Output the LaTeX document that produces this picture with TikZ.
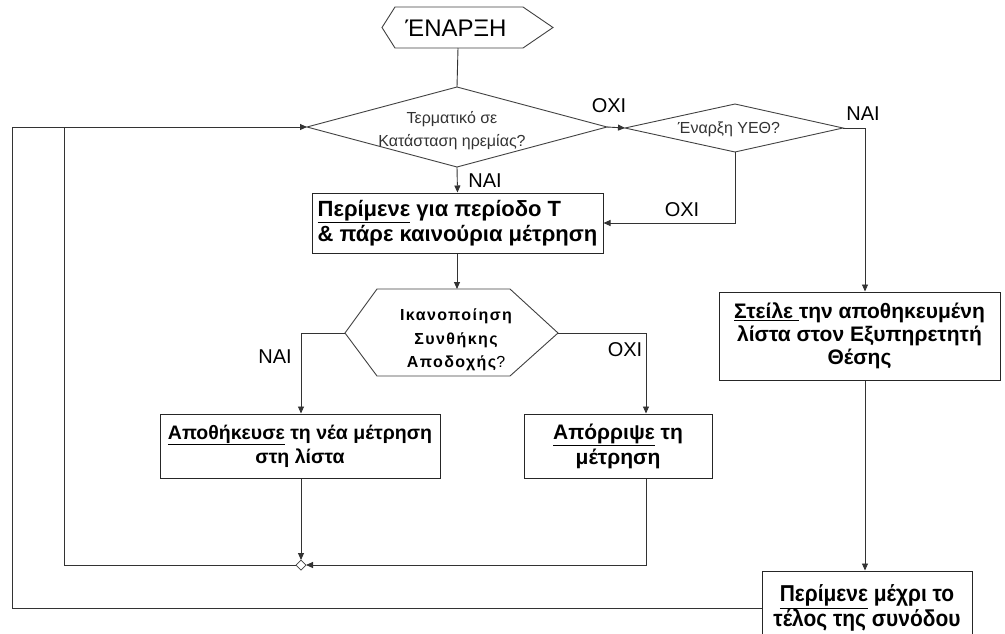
\documentclass[tikz,border=0pt]{standalone}
\usepackage{fontspec}
\setmainfont{Liberation Sans}
\usetikzlibrary{arrows.meta,calc}

\tikzset{
  conn/.style={draw=black!80, line width=0.9pt},
  arr/.style={conn, -{Triangle[length=7pt,width=6pt]}},
  outline/.style={draw=black!75, line width=0.9pt},
  stepbox/.style={draw=black!85, line width=1pt, rectangle, inner sep=0pt, align=center,
    font=\bfseries\fontsize{19}{24}\selectfont},
  lbl/.style={inner sep=0pt, font=\fontsize{20}{22}\selectfont},
  qtext/.style={inner sep=0pt, align=center, text=black!80, font=\fontsize{16}{23}\selectfont},
}

\begin{document}
\begin{tikzpicture}[x=1pt,y=-1pt]
\useasboundingbox (0,0) rectangle (1005,633);

% start terminal
\coordinate (sw) at (382,27.5);  \coordinate (snw) at (395,7);  \coordinate (sne) at (523,7);
\coordinate (se) at (553,27.5);  \coordinate (sse) at (523,48); \coordinate (ssw) at (395,48);
\coordinate (ss) at (458,48);
\draw[outline] (sw) -- (snw) -- (sne) -- (se) -- (sse) -- (ssw) -- cycle;
\node[inner sep=0pt, font=\fontsize{24}{26}\selectfont] (start) at (456,28) {ΈΝΑΡΞΗ};

% decision: terminal idle?
\coordinate (d1n) at (457,87);  \coordinate (d1e) at (607,127);
\coordinate (d1s) at (457,167); \coordinate (d1w) at (307,127);
\draw[outline] (d1n) -- (d1e) -- (d1s) -- (d1w) -- cycle;
\node[qtext] (d1) at (452,131) {Τερματικό σε\\Κατάσταση ηρεμίας?};

% decision: start of location service?
\coordinate (d2n) at (735,104);  \coordinate (d2e) at (843,128);
\coordinate (d2s) at (735,152);  \coordinate (d2w) at (625,128);
\draw[outline] (d2n) -- (d2e) -- (d2s) -- (d2w) -- cycle;
\node[qtext] (d2) at (729,129) {Έναρξη ΥΕΘ?};

% wait and measure
\node[stepbox, minimum width=291pt, minimum height=60pt, align=left,
  font=\bfseries\fontsize{22}{25}\selectfont] (measure) at (457.5,223)
  {\underline{Περίμενε} για περίοδο Τ\\\& πάρε καινούρια μέτρηση};

% acceptance check
\coordinate (cw) at (345,333);  \coordinate (cnw) at (377,289); \coordinate (cne) at (510,289);
\coordinate (ce) at (558,333);  \coordinate (cse) at (510,376); \coordinate (csw) at (377,376);
\coordinate (cn) at (457,289);
\draw[outline] (cw) -- (cnw) -- (cne) -- (ce) -- (cse) -- (csw) -- cycle;
\node[inner sep=0pt, align=center,
  font=\bfseries\fontsize{16}{23.5}\selectfont\addfontfeature{LetterSpace=9}] (cond) at (456,340)
  {Ικανοποίηση\\Συνθήκης\\Αποδοχής{\mdseries ?}};

% store / reject
\node[stepbox, minimum width=280pt, minimum height=64pt,
  font=\bfseries\fontsize{19.5}{24}\selectfont] (store) at (300,446)
  {\underline{Αποθήκευσε} τη νέα μέτρηση\\στη λίστα};
\node[stepbox, minimum width=188pt, minimum height=64pt,
  font=\bfseries\fontsize{21}{25}\selectfont] (reject) at (618,446)
  {\underline{Απόρριψε} τη\\μέτρηση};

% send list
\node[stepbox, minimum width=281pt, minimum height=88pt,
  font=\bfseries\fontsize{21}{23}\selectfont] (send) at (859.5,336)
  {\underline{Στείλε }την αποθηκευμένη\\λίστα στον Εξυπηρετητή\\Θέσης};

% wait for end of session
\node[stepbox, minimum width=210pt, minimum height=74pt,
  font=\bfseries\fontsize{23}{25}\selectfont\addfontfeature{FakeStretch=0.91}] (wait) at (867,608)
  {\underline{Περίμενε} μέχρι το\\τέλος της συνόδου};

% merge point
\coordinate (jn) at (301,560); \coordinate (je) at (306,565);
\coordinate (js) at (301,570); \coordinate (jw) at (296,565);
\draw[outline, line width=0.7pt, fill=white] (jn) -- (je) -- (js) -- (jw) -- cycle;

% turn points of the loops
\coordinate (oxiturn) at (646,333);
\coordinate (loopin) at (64,127);
\coordinate (loopout) at (12,127);
\coordinate (sendturn) at (865,128);

% connectors
\draw[conn] (ss) -- (d1n);
\draw[arr] (d1e) -- (d2w);
\draw[arr] (d2e) -- (sendturn) -- (sendturn |- send.north);
\draw[arr] (d2s) |- (measure.east);
\draw[arr] (d1s) -- (measure.north);
\draw[arr] (measure.south -| cn) -- (cn);
\draw[arr] (cw) -| (store.north -| jn);
\draw[arr] (ce) -- (oxiturn) -- (oxiturn |- reject.north);
\draw[arr] (store.south -| jn) -- (jn);
\draw[arr] (reject.south -| oxiturn) |- (je);
\draw[arr] (jw) -| (loopin) -- (d1w);
\draw[conn] (wait.west) -| (loopout) -- (loopin);
\draw[arr] (send.south -| sendturn) -- (sendturn |- wait.north);

% branch labels
\node[lbl] (l1) at (609,106) {ΟΧΙ};
\node[lbl] (l2) at (863,114) {ΝΑΙ};
\node[lbl] (l3) at (682,210) {ΟΧΙ};
\node[lbl] (l4) at (485,181) {ΝΑΙ};
\node[lbl] (l5) at (275,357) {ΝΑΙ};
\node[lbl] (l6) at (625,350) {ΟΧΙ};
\end{tikzpicture}
\end{document}
